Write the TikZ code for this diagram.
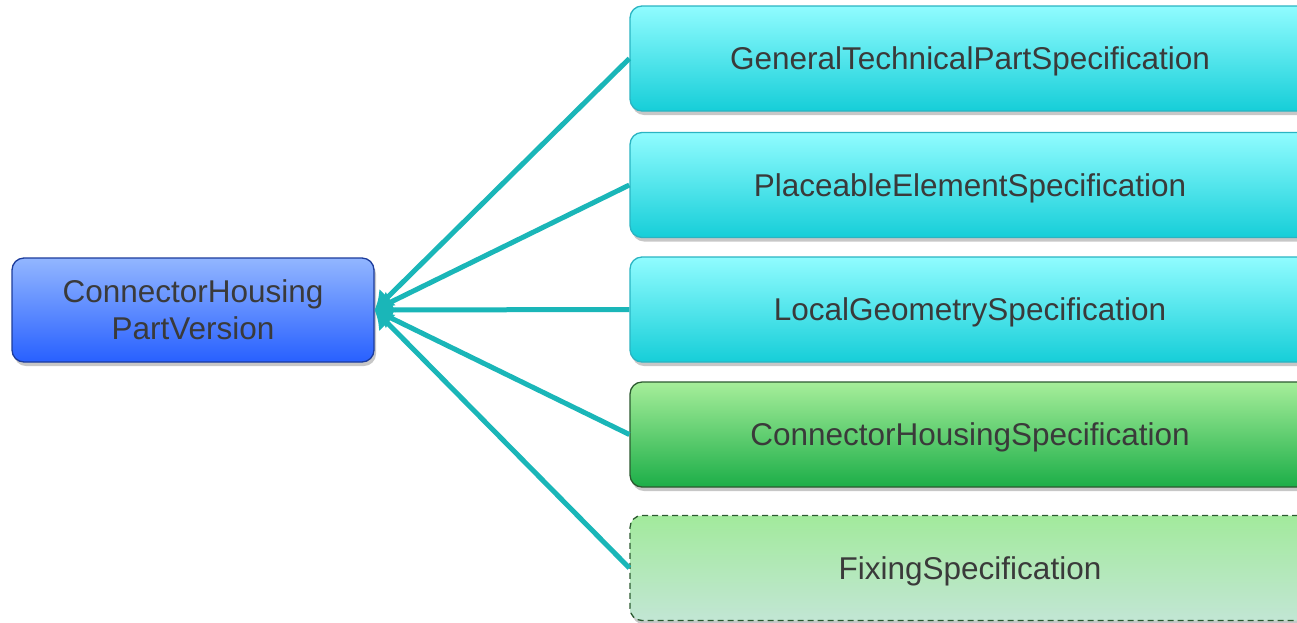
\documentclass[tikz,border=0pt]{standalone}
\usepackage{fontspec}
\setmainfont{Liberation Sans}
\usetikzlibrary{arrows.meta,shadows}
\definecolor{txt}{HTML}{3A3A3A}
\definecolor{teal}{HTML}{1AB6B8}
\definecolor{bluetop}{HTML}{92B6FF}
\definecolor{bluebot}{HTML}{2860FF}
\definecolor{blueedge}{HTML}{1C3C9C}
\definecolor{cyantop}{HTML}{90FCFF}
\definecolor{cyanbot}{HTML}{16CED8}
\definecolor{cyanedge}{HTML}{2AB4C2}
\definecolor{greentop}{HTML}{A6EE9A}
\definecolor{greenbot}{HTML}{1CAE48}
\definecolor{greenedge}{HTML}{2C5A30}
\definecolor{fixtop}{HTML}{A2EA9C}
\definecolor{fixmid}{HTML}{86CF96}
\definecolor{fixbot}{HTML}{C2E6D4}
\tikzset{
  x=1pt,y=-1pt,
  box/.style={rounded corners=12pt, inner sep=0pt, text=txt,
    font=\fontsize{31.5}{37}\selectfont, align=center,
    drop shadow={shadow xshift=2pt, shadow yshift=-4pt, opacity=0.22, fill=black}},
  mainbox/.style={box, minimum width=362pt, minimum height=104pt,
    draw=blueedge, line width=1.3pt, top color=bluetop, bottom color=bluebot},
  specbox/.style={box, minimum width=680pt, minimum height=105pt, line width=1.3pt,
    text height=25.5pt, text depth=3pt},
  cyanbox/.style={specbox, draw=cyanedge, top color=cyantop, bottom color=cyanbot},
  greenbox/.style={specbox, draw=greenedge, top color=greentop, bottom color=greenbot},
  fixbox/.style={specbox, draw=greenedge, dash pattern=on 6pt off 4pt,
    top color=fixtop, middle color=fixmid, bottom color=fixbot},
  link/.style={draw=teal, line width=5pt, -{Latex[length=18pt,width=24pt]}}
}
\begin{document}
\begin{tikzpicture}
\useasboundingbox (0,0) rectangle (1297,622);
\clip (0,0) rectangle (1297,622);
\fill[white] (0,0) rectangle (1297,622);
\node[mainbox] (main) at (193,310) {ConnectorHousing\\PartVersion};
\node[cyanbox] (b1) at (970,58.5) {GeneralTechnicalPartSpecification};
\node[cyanbox] (b2) at (970,185) {PlaceableElementSpecification};
\node[cyanbox] (b3) at (970,309.5) {LocalGeometrySpecification};
\node[greenbox] (b4) at (970,434.5) {ConnectorHousingSpecification};
\node[fixbox] (b5) at (970,568) {FixingSpecification};
\foreach \b in {b1,b2,b3,b4,b5}{
  \draw[link] (\b.west) -- (main.east);
}
\end{tikzpicture}
\end{document}
